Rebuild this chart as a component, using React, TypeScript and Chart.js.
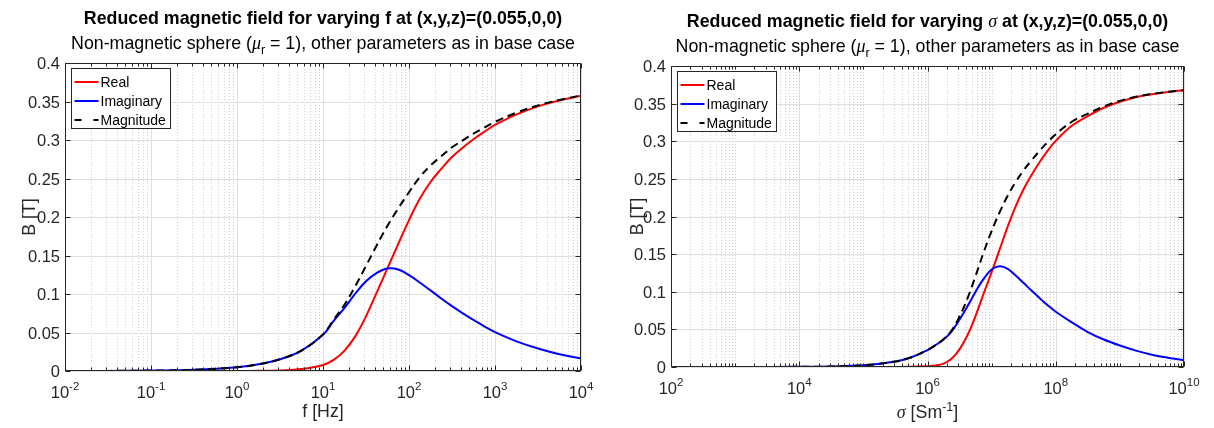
import React, { useEffect, useRef } from 'react';
import { Chart, registerables } from 'chart.js';
Chart.register(...registerables);

// ---------- Left panel data (varying f) ----------
const freqHz = [0.01, 0.0316, 0.1, 0.316, 1, 1.78, 3.16, 5.62, 10, 13.3, 17.8, 23.7, 31.6, 42.2, 56.2, 75, 100, 133, 178, 237, 316, 422, 562, 750, 1000, 1780, 3160, 5620, 10000];
const realF = [0, 0, 0.000001, 0.00001, 0.00008, 0.00025, 0.0008, 0.0025, 0.0078, 0.0145, 0.0265, 0.045, 0.071, 0.102, 0.1335, 0.165, 0.196, 0.2235, 0.2455, 0.2625, 0.278, 0.290, 0.301, 0.3107, 0.3195, 0.3333, 0.3437, 0.3513, 0.3575];
const imagF = [0.00005, 0.00016, 0.0005, 0.0016, 0.0049, 0.0087, 0.0153, 0.0265, 0.047, 0.065, 0.082, 0.1005, 0.1165, 0.1275, 0.1332, 0.1318, 0.1245, 0.115, 0.1047, 0.0942, 0.0843, 0.0748, 0.0665, 0.058, 0.0505, 0.0385, 0.0292, 0.0218, 0.0163];
const magF = [0.00005, 0.00016, 0.0005, 0.0016, 0.0049, 0.0087, 0.0153, 0.0266, 0.0476, 0.0666, 0.0862, 0.1101, 0.1364, 0.1633, 0.1886, 0.2112, 0.2322, 0.2514, 0.2669, 0.2789, 0.2905, 0.2995, 0.3083, 0.3161, 0.3235, 0.3355, 0.3449, 0.352, 0.3579];
const xMajorF = [1e-2, 1e-1, 1, 10, 100, 1e3, 1e4];
const xExpF = ['-2', '-1', '0', '1', '2', '3', '4'];

// ---------- Right panel data (varying sigma) ----------
const sigma = [1e2, 1e3, 1e4, 3.16e4, 1e5, 3.16e5, 5.62e5, 1e6, 1.33e6, 1.78e6, 2.37e6, 3.16e6, 4.22e6, 5.62e6, 7.5e6, 1e7, 1.33e7, 1.78e7, 2.37e7, 3.16e7, 4.22e7, 5.62e7, 7.5e7, 1e8, 1.78e8, 3.16e8, 5.62e8, 1e9, 1.78e9, 3.16e9, 5.62e9, 1e10];
const realS = [0, 0, 0, 0.000001, 0.00001, 0.0001, 0.0003, 0.001, 0.0019, 0.0045, 0.011, 0.0235, 0.0425, 0.068, 0.0975, 0.126, 0.156, 0.1865, 0.2135, 0.2365, 0.2555, 0.2725, 0.2875, 0.3005, 0.3205, 0.3335, 0.3445, 0.3525, 0.3585, 0.3625, 0.3655, 0.3678];
const imagS = [0.000002, 0.00002, 0.0002, 0.0007, 0.0022, 0.0074, 0.013, 0.0225, 0.029, 0.0365, 0.047, 0.063, 0.081, 0.1, 0.117, 0.1295, 0.1338, 0.1305, 0.1215, 0.1115, 0.1012, 0.0915, 0.082, 0.0735, 0.0593, 0.0465, 0.0365, 0.0285, 0.0218, 0.0164, 0.0123, 0.009];
const magS = [0.000002, 0.00002, 0.0002, 0.0007, 0.0022, 0.0074, 0.013, 0.0225, 0.0291, 0.0368, 0.0483, 0.0672, 0.0915, 0.1209, 0.1523, 0.1807, 0.2055, 0.2276, 0.2457, 0.2615, 0.2748, 0.2875, 0.299, 0.3094, 0.3259, 0.3367, 0.3464, 0.3537, 0.3592, 0.3629, 0.3657, 0.3679];
const xMajorS = [1e2, 1e4, 1e6, 1e8, 1e10];
const xExpS = ['2', '4', '6', '8', '10'];

// ---------- Shared ----------
const yTicks = [0, 0.05, 0.1, 0.15, 0.2, 0.25, 0.3, 0.35, 0.4];
const yTickLabels = ['0', '0.05', '0.1', '0.15', '0.2', '0.25', '0.3', '0.35', '0.4'];
const seriesNames = ['Real', 'Imaginary', 'Magnitude'];
const seriesColors = ['#ff0000', '#0000ff', '#000000'];

const SANS = '"Liberation Sans", Arial, Helvetica, sans-serif';
const SERIF = '"Liberation Serif", "DejaVu Serif", serif';
const BOLD17 = `bold 17.8px ${SANS}`;
const REG17 = `17.8px ${SANS}`;
const REG12 = `12.5px ${SANS}`;
const SIG17 = `italic 18px ${SERIF}`;
const TICK = `16.5px ${SANS}`;
const TICKSUP = `11.5px ${SANS}`;
const LEG = `14px ${SANS}`;
const AXC = '#262626';

type Seg = { t: string; f: string; dy?: number };

function drawSegs(ctx: CanvasRenderingContext2D, segs: Seg[], x: number, y: number, align: 'left' | 'center' | 'right') {
  let w = 0;
  for (const s of segs) { ctx.font = s.f; w += ctx.measureText(s.t).width; }
  let cx = align === 'center' ? x - w / 2 : align === 'right' ? x - w : x;
  ctx.textAlign = 'left';
  ctx.textBaseline = 'alphabetic';
  for (const s of segs) {
    ctx.font = s.f;
    ctx.fillText(s.t, cx, y + (s.dy || 0));
    cx += ctx.measureText(s.t).width;
  }
}

function minorTicks(minExp: number, maxExp: number, majors: number[]) {
  const out: number[] = [];
  for (let e = minExp; e < maxExp; e++) {
    const base = Math.pow(10, e);
    if (!majors.some((m) => Math.abs(Math.log10(m) - e) < 1e-9)) out.push(base);
    for (let k = 2; k <= 9; k++) out.push(k * base);
  }
  return out;
}

interface PanelCfg {
  xs: number[];
  series: number[][];
  xMin: number;
  xMax: number;
  xMajor: number[];
  xExp: string[];
  xMinor: number[];
  padding: { left: number; right: number; top: number; bottom: number };
  title: Seg[];
  subtitle: Seg[];
  xlabel: Seg[];
  titleY: number;
  subY: number;
  xlabelY: number;
  ylabelX: number;
}

const subtitleSegs: Seg[] = [
  { t: 'Non-magnetic sphere (', f: REG17 },
  { t: 'μ', f: SIG17 },
  { t: 'r', f: REG12, dy: 5 },
  { t: ' = 1), other parameters as in base case', f: REG17 },
];

const leftCfg: PanelCfg = {
  xs: freqHz,
  series: [realF, imagF, magF],
  xMin: 1e-2,
  xMax: 1e4,
  xMajor: xMajorF,
  xExp: xExpF,
  xMinor: minorTicks(-2, 4, xMajorF),
  padding: { left: 65, right: 26, top: 63, bottom: 57 },
  title: [{ t: 'Reduced magnetic field for varying f at (x,y,z)=(0.055,0,0)', f: BOLD17 }],
  subtitle: subtitleSegs,
  xlabel: [{ t: 'f [Hz]', f: REG17 }],
  titleY: 23.5,
  subY: 49,
  xlabelY: 417,
  ylabelX: 35,
};

const rightCfg: PanelCfg = {
  xs: sigma,
  series: [realS, imagS, magS],
  xMin: 1e2,
  xMax: 1e10,
  xMajor: xMajorS,
  xExp: xExpS,
  xMinor: minorTicks(2, 10, xMajorS),
  padding: { left: 64, right: 30, top: 66, bottom: 61 },
  title: [
    { t: 'Reduced magnetic field for varying ', f: BOLD17 },
    { t: 'σ', f: SIG17 },
    { t: ' at (x,y,z)=(0.055,0,0)', f: BOLD17 },
  ],
  subtitle: subtitleSegs,
  xlabel: [
    { t: 'σ', f: SIG17 },
    { t: ' [Sm', f: REG17 },
    { t: '-1', f: REG12, dy: -7 },
    { t: ']', f: REG17 },
  ],
  titleY: 26.5,
  subY: 52,
  xlabelY: 418,
  ylabelX: 36,
};

function makePlugin(cfg: PanelCfg) {
  return {
    id: 'matlabLook',
    beforeDatasetsDraw(chart: any) {
      const { ctx, chartArea: a, scales } = chart;
      const x = scales.x;
      const y = scales.y;
      ctx.save();
      ctx.lineWidth = 1;
      ctx.strokeStyle = 'rgba(38,38,38,0.22)';
      ctx.setLineDash([1, 2]);
      for (const v of cfg.xMinor) {
        const px = Math.round(x.getPixelForValue(v)) + 0.5;
        ctx.beginPath(); ctx.moveTo(px, a.top); ctx.lineTo(px, a.bottom); ctx.stroke();
      }
      ctx.setLineDash([]);
      ctx.strokeStyle = '#dfdfdf';
      for (const v of cfg.xMajor) {
        const px = Math.round(x.getPixelForValue(v)) + 0.5;
        ctx.beginPath(); ctx.moveTo(px, a.top); ctx.lineTo(px, a.bottom); ctx.stroke();
      }
      for (const v of yTicks) {
        const py = Math.round(y.getPixelForValue(v)) + 0.5;
        ctx.beginPath(); ctx.moveTo(a.left, py); ctx.lineTo(a.right, py); ctx.stroke();
      }
      ctx.restore();
    },
    afterDatasetsDraw(chart: any) {
      const { ctx, chartArea: a, scales } = chart;
      const x = scales.x;
      const y = scales.y;
      ctx.save();
      ctx.strokeStyle = AXC;
      ctx.lineWidth = 1;
      const L = Math.round(a.left) + 0.5;
      const R = Math.round(a.right) - 0.5;
      const T = Math.round(a.top) + 0.5;
      const B = Math.round(a.bottom) - 0.5;
      ctx.strokeRect(L, T, R - L, B - T);
      const tick = (px: number, len: number) => {
        ctx.beginPath();
        ctx.moveTo(px, B); ctx.lineTo(px, B - len);
        ctx.moveTo(px, T); ctx.lineTo(px, T + len);
        ctx.stroke();
      };
      for (const v of cfg.xMinor) tick(Math.round(x.getPixelForValue(v)) + 0.5, 3);
      for (const v of cfg.xMajor) tick(Math.round(x.getPixelForValue(v)) + 0.5, 5);
      for (const v of yTicks) {
        const py = Math.round(y.getPixelForValue(v)) + 0.5;
        ctx.beginPath();
        ctx.moveTo(L, py); ctx.lineTo(L + 5, py);
        ctx.moveTo(R, py); ctx.lineTo(R - 5, py);
        ctx.stroke();
      }
      const lx = Math.round(a.left) + 6.5;
      const ly = Math.round(a.top) + 5.5;
      const lw = 99;
      const lh = 60;
      ctx.fillStyle = '#ffffff';
      ctx.fillRect(lx, ly, lw, lh);
      ctx.strokeStyle = AXC;
      ctx.strokeRect(lx, ly, lw, lh);
      const rows = [13.5, 32.5, 51.5];
      ctx.lineWidth = 2;
      for (let i = 0; i < 3; i++) {
        const ry = ly + rows[i];
        ctx.strokeStyle = seriesColors[i];
        ctx.beginPath();
        if (i === 2) {
          ctx.moveTo(lx + 3, ry); ctx.lineTo(lx + 10, ry);
          ctx.moveTo(lx + 22, ry); ctx.lineTo(lx + 27, ry);
        } else {
          ctx.moveTo(lx + 3, ry); ctx.lineTo(lx + 27, ry);
        }
        ctx.stroke();
        ctx.fillStyle = '#000000';
        ctx.font = LEG;
        ctx.textAlign = 'left';
        ctx.textBaseline = 'middle';
        ctx.fillText(seriesNames[i], lx + 29, ry + 1);
      }
      ctx.restore();
    },
    afterDraw(chart: any) {
      const { ctx, chartArea: a, scales } = chart;
      const x = scales.x;
      const y = scales.y;
      ctx.save();
      ctx.fillStyle = AXC;
      for (let i = 0; i < yTicks.length; i++) {
        const py = y.getPixelForValue(yTicks[i]);
        drawSegs(ctx, [{ t: yTickLabels[i], f: TICK }], a.left - 5, py + 6, 'right');
      }
      for (let i = 0; i < cfg.xMajor.length; i++) {
        const px = x.getPixelForValue(cfg.xMajor[i]);
        drawSegs(ctx, [{ t: '10', f: TICK }, { t: cfg.xExp[i], f: TICKSUP, dy: -8.5 }], px, a.bottom + 27, 'center');
      }
      const cx = (a.left + a.right) / 2;
      drawSegs(ctx, cfg.xlabel, cx, cfg.xlabelY, 'center');
      ctx.save();
      ctx.translate(cfg.ylabelX, (a.top + a.bottom) / 2);
      ctx.rotate(-Math.PI / 2);
      drawSegs(ctx, [{ t: 'B [T]', f: REG17 }], 0, 0, 'center');
      ctx.restore();
      ctx.fillStyle = '#000000';
      drawSegs(ctx, cfg.title, cx, cfg.titleY, 'center');
      drawSegs(ctx, cfg.subtitle, cx, cfg.subY, 'center');
      ctx.restore();
    },
  };
}

function Panel({ cfg, left }: { cfg: PanelCfg; left: number }) {
  const ref = useRef<HTMLCanvasElement>(null);
  useEffect(() => {
    const canvas = ref.current!;
    const datasets = cfg.series.map((vals, i) => ({
      label: seriesNames[i],
      data: cfg.xs.map((xv, j) => ({ x: xv, y: vals[j] })),
      borderColor: seriesColors[i],
      backgroundColor: seriesColors[i],
      borderWidth: 2,
      pointRadius: 0,
      fill: false,
      tension: 0.4,
      borderDash: i === 2 ? [8, 5] : [],
      borderCapStyle: 'butt' as const,
      borderJoinStyle: 'round' as const,
      order: 2 - i,
    }));
    const chart = new Chart(canvas, {
      type: 'line',
      data: { datasets },
      options: {
        responsive: false,
        animation: false,
        devicePixelRatio: 1,
        parsing: false,
        layout: { padding: cfg.padding },
        scales: {
          x: { type: 'logarithmic', min: cfg.xMin, max: cfg.xMax, display: false },
          y: { type: 'linear', min: 0, max: 0.4, display: false },
        },
        plugins: {
          legend: { display: false },
          tooltip: { enabled: false },
          title: { display: false },
        },
        events: [],
      },
      plugins: [makePlugin(cfg)],
    } as any);
    return () => chart.destroy();
  }, [cfg]);
  return (
    <canvas
      ref={ref}
      width={607}
      height={428}
      style={{ position: 'absolute', left, top: 0, width: 607, height: 428 }}
    />
  );
}

export default function App() {
  return (
    <div style={{ position: 'absolute', left: 0, top: 0, width: 1214, height: 428, background: '#ffffff', overflow: 'hidden' }}>
      <Panel cfg={leftCfg} left={0} />
      <Panel cfg={rightCfg} left={607} />
    </div>
  );
}
